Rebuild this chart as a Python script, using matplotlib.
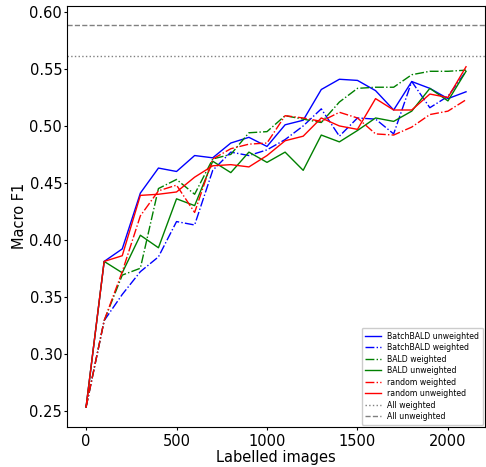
import matplotlib
matplotlib.use("Agg")
import matplotlib.pyplot as plt
import numpy as np

# Number of labelled images at each acquisition step
labelled = list(range(0, 2200, 100))

batchbald_unweighted = [0.253, 0.381, 0.392, 0.441, 0.463, 0.460, 0.474, 0.472, 0.485, 0.490, 0.482,
                        0.501, 0.505, 0.532, 0.541, 0.540, 0.531, 0.514, 0.539, 0.533, 0.524, 0.530]
batchbald_weighted = [0.253, 0.329, 0.352, 0.372, 0.385, 0.416, 0.413, 0.461, 0.477, 0.474, 0.479,
                      0.488, 0.500, 0.515, 0.491, 0.507, 0.506, 0.493, 0.539, 0.516, 0.526, 0.548]
bald_weighted = [0.253, 0.329, 0.369, 0.375, 0.445, 0.453, 0.440, 0.471, 0.475, 0.494, 0.495,
                 0.509, 0.506, 0.503, 0.521, 0.533, 0.534, 0.534, 0.545, 0.548, 0.548, 0.549]
bald_unweighted = [0.253, 0.381, 0.371, 0.404, 0.393, 0.436, 0.430, 0.469, 0.459, 0.477, 0.468,
                   0.477, 0.461, 0.492, 0.486, 0.496, 0.507, 0.504, 0.513, 0.533, 0.522, 0.548]
random_weighted = [0.253, 0.329, 0.372, 0.421, 0.443, 0.448, 0.424, 0.471, 0.480, 0.484, 0.485,
                   0.509, 0.507, 0.504, 0.512, 0.507, 0.493, 0.492, 0.499, 0.510, 0.513, 0.523]
random_unweighted = [0.253, 0.381, 0.386, 0.439, 0.440, 0.442, 0.455, 0.465, 0.466, 0.464, 0.474,
                     0.487, 0.491, 0.507, 0.500, 0.497, 0.524, 0.514, 0.514, 0.528, 0.525, 0.552]

# Scores when training on the full labelled pool
all_weighted = 0.561
all_unweighted = 0.589

fig = plt.figure(figsize=(4.86, 4.67), dpi=100)
ax = fig.add_axes([0.138, 0.086, 0.860, 0.902])

lw = 1.0
ax.plot(labelled, batchbald_unweighted, color="blue", linestyle="-", lw=lw, label="BatchBALD unweighted")
ax.plot(labelled, batchbald_weighted, color="blue", linestyle="-.", lw=lw, label="BatchBALD weighted")
ax.plot(labelled, bald_weighted, color="green", linestyle="-.", lw=lw, label="BALD weighted")
ax.plot(labelled, bald_unweighted, color="green", linestyle="-", lw=lw, label="BALD unweighted")
ax.plot(labelled, random_weighted, color="red", linestyle="-.", lw=lw, label="random weighted")
ax.plot(labelled, random_unweighted, color="red", linestyle="-", lw=lw, label="random unweighted")
ax.axhline(all_weighted, color="grey", linestyle=":", lw=lw, label="All weighted")
ax.axhline(all_unweighted, color="grey", linestyle="--", lw=lw, label="All unweighted")

ax.set_xlim(-105, 2205)
ax.set_ylim(0.2357, 0.6057)
ax.set_xticks([0, 500, 1000, 1500, 2000])
ax.set_yticks([0.25, 0.30, 0.35, 0.40, 0.45, 0.50, 0.55, 0.60])
ax.yaxis.set_major_formatter(matplotlib.ticker.FormatStrFormatter("%.2f"))
ax.tick_params(axis="x", labelsize=10.5, length=2.5, pad=2.5)
ax.tick_params(axis="y", labelsize=10.5, length=2.5, pad=1.0)

ax.set_xlabel("Labelled images", fontsize=10.5, labelpad=1)
ax.set_ylabel("Macro F1", fontsize=10.5, labelpad=2)

ax.legend(loc="lower right", fontsize=5.6, handlelength=2.0, labelspacing=0.32,
          borderpad=0.5, borderaxespad=0.25, framealpha=1.0)

fig.savefig("out.png", dpi=100)
